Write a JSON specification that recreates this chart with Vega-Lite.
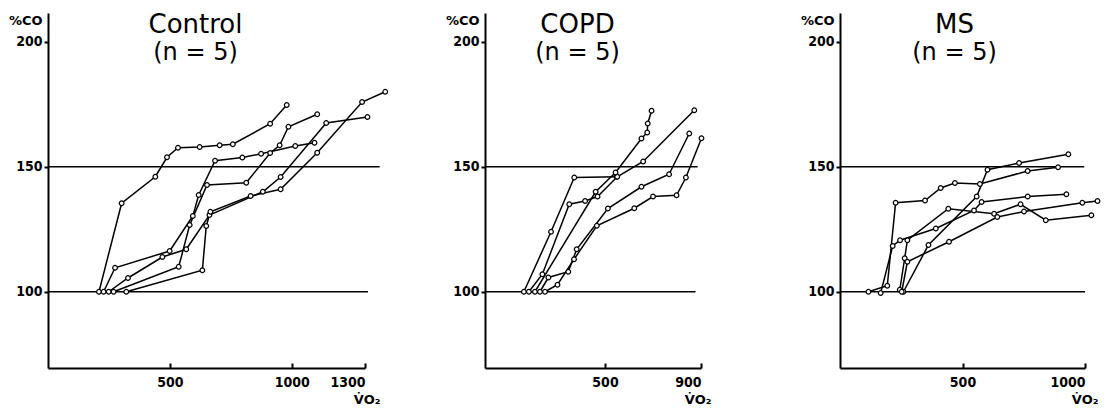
{
  "$schema": "https://vega.github.io/schema/vega-lite/v6.json",
  "padding": {"left": 8, "top": 12, "right": 0, "bottom": 0},
  "background": "white",
  "config": {
    "view": {"stroke": null},
    "axis": {"grid": false, "domainColor": "black", "domainWidth": 2, "tickColor": "black", "tickWidth": 2,
      "labelFont": "Liberation Sans Narrow, DejaVu Sans Condensed, Arial Narrow, sans-serif", "labelFontWeight": "bold", "labelFontSize": 14, "labelColor": "black",
      "titleFont": "DejaVu Sans", "titleFontWeight": "bold", "titleFontSize": 13, "titleColor": "black"},
    "title": {"font": "DejaVu Sans", "fontWeight": 500, "fontSize": 26, "color": "black", "subtitleFont": "DejaVu Sans", "subtitleFontSize": 24, "subtitleColor": "black", "anchor": "middle"}
  },
  "datasets": {
    "pts": [
      {"g":"Control","s":"A","x":209,"y":100},{"g":"Control","s":"A","x":302,"y":135.4},{"g":"Control","s":"A","x":440,"y":146},{"g":"Control","s":"A","x":488,"y":153.8},{"g":"Control","s":"A","x":533,"y":157.6},{"g":"Control","s":"A","x":622,"y":157.9},{"g":"Control","s":"A","x":704,"y":158.6},{"g":"Control","s":"A","x":758,"y":159},{"g":"Control","s":"A","x":911,"y":167.2},{"g":"Control","s":"A","x":979,"y":174.7},
      {"g":"Control","s":"B","x":228,"y":100},{"g":"Control","s":"B","x":275,"y":109.6},{"g":"Control","s":"B","x":499,"y":116.3},{"g":"Control","s":"B","x":594,"y":130.3},{"g":"Control","s":"B","x":618,"y":138.7},{"g":"Control","s":"B","x":685,"y":152.4},{"g":"Control","s":"B","x":797,"y":153.7},{"g":"Control","s":"B","x":874,"y":155.2},{"g":"Control","s":"B","x":1014,"y":158.3},{"g":"Control","s":"B","x":1093,"y":159.6},
      {"g":"Control","s":"C","x":269,"y":100},{"g":"Control","s":"C","x":536,"y":110},{"g":"Control","s":"C","x":581,"y":126.7},{"g":"Control","s":"C","x":652,"y":142.7},{"g":"Control","s":"C","x":813,"y":143.6},{"g":"Control","s":"C","x":911,"y":155.5},{"g":"Control","s":"C","x":950,"y":158.6},{"g":"Control","s":"C","x":986,"y":166},{"g":"Control","s":"C","x":1104,"y":171},
      {"g":"Control","s":"D","x":249,"y":100},{"g":"Control","s":"D","x":328,"y":105.5},{"g":"Control","s":"D","x":469,"y":113.9},{"g":"Control","s":"D","x":567,"y":117},{"g":"Control","s":"D","x":662,"y":130.7},{"g":"Control","s":"D","x":881,"y":140},{"g":"Control","s":"D","x":954,"y":145.9},{"g":"Control","s":"D","x":1141,"y":167.5},{"g":"Control","s":"D","x":1310,"y":169.9},
      {"g":"Control","s":"E","x":321,"y":100},{"g":"Control","s":"E","x":633,"y":108.6},{"g":"Control","s":"E","x":649,"y":126.3},{"g":"Control","s":"E","x":666,"y":132},{"g":"Control","s":"E","x":831,"y":138.3},{"g":"Control","s":"E","x":954,"y":141},{"g":"Control","s":"E","x":1104,"y":155.6},{"g":"Control","s":"E","x":1288,"y":175.9},{"g":"Control","s":"E","x":1383,"y":180},
      {"g":"COPD","s":"A","x":162,"y":100},{"g":"COPD","s":"A","x":275,"y":124},{"g":"COPD","s":"A","x":372,"y":145.7},{"g":"COPD","s":"A","x":548,"y":146},
      {"g":"COPD","s":"B","x":183,"y":100},{"g":"COPD","s":"B","x":239,"y":107},{"g":"COPD","s":"B","x":351,"y":135},{"g":"COPD","s":"B","x":417,"y":136.3},{"g":"COPD","s":"B","x":469,"y":138.1},{"g":"COPD","s":"B","x":551,"y":146},{"g":"COPD","s":"B","x":659,"y":152.1},{"g":"COPD","s":"B","x":872,"y":172.6},
      {"g":"COPD","s":"C","x":208,"y":100},{"g":"COPD","s":"C","x":461,"y":140},{"g":"COPD","s":"C","x":544,"y":147.7},{"g":"COPD","s":"C","x":652,"y":161.3},{"g":"COPD","s":"C","x":676,"y":163.7},{"g":"COPD","s":"C","x":678,"y":167.3},{"g":"COPD","s":"C","x":694,"y":172.4},
      {"g":"COPD","s":"D","x":229,"y":100},{"g":"COPD","s":"D","x":264,"y":105.7},{"g":"COPD","s":"D","x":347,"y":108},{"g":"COPD","s":"D","x":382,"y":117},{"g":"COPD","s":"D","x":512,"y":133.3},{"g":"COPD","s":"D","x":652,"y":142},{"g":"COPD","s":"D","x":767,"y":147},{"g":"COPD","s":"D","x":851,"y":163.3},
      {"g":"COPD","s":"E","x":250,"y":100},{"g":"COPD","s":"E","x":302,"y":102.8},{"g":"COPD","s":"E","x":371,"y":113},{"g":"COPD","s":"E","x":466,"y":126.4},{"g":"COPD","s":"E","x":622,"y":133.4},{"g":"COPD","s":"E","x":700,"y":138.1},{"g":"COPD","s":"E","x":798,"y":138.6},{"g":"COPD","s":"E","x":837,"y":145.7},{"g":"COPD","s":"E","x":902,"y":161.4},
      {"g":"MS","s":"A","x":116,"y":100},{"g":"MS","s":"A","x":193,"y":102.4},{"g":"MS","s":"A","x":227,"y":135.6},{"g":"MS","s":"A","x":347,"y":136.5},{"g":"MS","s":"A","x":411,"y":141.5},{"g":"MS","s":"A","x":469,"y":143.5},{"g":"MS","s":"A","x":571,"y":143.1},{"g":"MS","s":"A","x":766,"y":148.3},{"g":"MS","s":"A","x":890,"y":149.8},
      {"g":"MS","s":"B","x":166,"y":99.5},{"g":"MS","s":"B","x":215,"y":118.3},{"g":"MS","s":"B","x":245,"y":120.6},{"g":"MS","s":"B","x":391,"y":125.3},{"g":"MS","s":"B","x":547,"y":132.5},{"g":"MS","s":"B","x":578,"y":135.9},{"g":"MS","s":"B","x":766,"y":138.1},{"g":"MS","s":"B","x":924,"y":139},
      {"g":"MS","s":"C","x":259,"y":100},{"g":"MS","s":"C","x":361,"y":118.7},{"g":"MS","s":"C","x":558,"y":138.1},{"g":"MS","s":"C","x":602,"y":148.8},{"g":"MS","s":"C","x":731,"y":151.5},{"g":"MS","s":"C","x":932,"y":155},
      {"g":"MS","s":"D","x":244,"y":100.8},{"g":"MS","s":"D","x":264,"y":113.4},{"g":"MS","s":"D","x":275,"y":120.6},{"g":"MS","s":"D","x":442,"y":133.2},{"g":"MS","s":"D","x":629,"y":131.2},{"g":"MS","s":"D","x":737,"y":135},{"g":"MS","s":"D","x":840,"y":128.6},{"g":"MS","s":"D","x":1026,"y":130.6},
      {"g":"MS","s":"E","x":252,"y":100},{"g":"MS","s":"E","x":275,"y":112},{"g":"MS","s":"E","x":445,"y":120},{"g":"MS","s":"E","x":642,"y":129.9},{"g":"MS","s":"E","x":751,"y":132.1},{"g":"MS","s":"E","x":989,"y":135.6},{"g":"MS","s":"E","x":1051,"y":136.3}
    ],
    "refs": [
      {"g":"Control","y":100,"x0":0,"x1":1312},{"g":"Control","y":150,"x0":0,"x1":1360},
      {"g":"COPD","y":100,"x0":0,"x1":877},{"g":"COPD","y":150,"x0":0,"x1":886},
      {"g":"MS","y":100,"x0":0,"x1":1000},{"g":"MS","y":150,"x0":0,"x1":997}
    ]
  },
  "bounds": "flush",
  "spacing": 120,
  "hconcat": [
    {
      "width": 317, "height": 355,
      "title": {"text": "Control", "subtitle": "(n = 5)", "offset": -52, "dx": -11},
      "layer": [
        {"data": {"name": "refs"}, "transform": [{"filter": "datum.g === 'Control'"}],
         "mark": {"type": "rule", "color": "black", "strokeWidth": 1.5},
         "encoding": {
           "x": {"field": "x0", "type": "quantitative", "scale": {"domain": [0, 1300], "nice": false, "zero": false},
                 "axis": {"values": [500, 1000, 1300], "format": "d", "tickSize": -5, "labelPadding": 12, "title": "V̇O₂", "titleAlign": "right", "titleX": 332, "titleY": 31, "titleBaseline": "middle"}},
           "x2": {"field": "x1"},
           "y": {"field": "y", "type": "quantitative", "scale": {"domain": [69.5, 211.5], "nice": false, "zero": false},
                 "axis": {"values": [100, 150, 200], "tickSize": 4, "labelPadding": 2, "title": "%CO", "titleAngle": 0, "titleAlign": "right", "titleBaseline": "middle", "titleX": -6, "titleY": 7}}
         }},
        {"data": {"name": "pts"}, "transform": [{"filter": "datum.g === 'Control'"}],
         "mark": {"type": "line", "color": "black", "strokeWidth": 1.5},
         "encoding": {"x": {"field": "x", "type": "quantitative"}, "y": {"field": "y", "type": "quantitative"}, "detail": {"field": "s"}}},
        {"data": {"name": "pts"}, "transform": [{"filter": "datum.g === 'Control'"}],
         "mark": {"type": "point", "shape": "circle", "filled": true, "fill": "white", "stroke": "black", "strokeWidth": 1.2, "size": 22, "opacity": 1},
         "encoding": {"x": {"field": "x", "type": "quantitative"}, "y": {"field": "y", "type": "quantitative"}}}
      ]
    },
    {
      "width": 235, "height": 355,
      "title": {"text": "COPD", "subtitle": "(n = 5)", "offset": -52, "dx": -25},
      "layer": [
        {"data": {"name": "refs"}, "transform": [{"filter": "datum.g === 'COPD'"}],
         "mark": {"type": "rule", "color": "black", "strokeWidth": 1.5},
         "encoding": {
           "x": {"field": "x0", "type": "quantitative", "scale": {"domain": [0, 900], "range": [0, 216], "nice": false, "zero": false},
                 "axis": {"values": [500, 900], "format": "d", "tickSize": -5, "labelPadding": 12, "title": "V̇O₂", "titleAlign": "right", "titleX": 226, "titleY": 31, "titleBaseline": "middle"}},
           "x2": {"field": "x1"},
           "y": {"field": "y", "type": "quantitative", "scale": {"domain": [69.5, 211.5], "nice": false, "zero": false},
                 "axis": {"values": [100, 150, 200], "tickSize": 4, "labelPadding": 2, "title": "%CO", "titleAngle": 0, "titleAlign": "right", "titleBaseline": "middle", "titleX": -6, "titleY": 7}}
         }},
        {"data": {"name": "pts"}, "transform": [{"filter": "datum.g === 'COPD'"}],
         "mark": {"type": "line", "color": "black", "strokeWidth": 1.5},
         "encoding": {"x": {"field": "x", "type": "quantitative"}, "y": {"field": "y", "type": "quantitative"}, "detail": {"field": "s"}}},
        {"data": {"name": "pts"}, "transform": [{"filter": "datum.g === 'COPD'"}],
         "mark": {"type": "point", "shape": "circle", "filled": true, "fill": "white", "stroke": "black", "strokeWidth": 1.2, "size": 22, "opacity": 1},
         "encoding": {"x": {"field": "x", "type": "quantitative"}, "y": {"field": "y", "type": "quantitative"}}}
      ]
    },
    {
      "width": 245, "height": 355,
      "title": {"text": "MS", "subtitle": "(n = 5)", "offset": -52, "dx": -8},
      "layer": [
        {"data": {"name": "refs"}, "transform": [{"filter": "datum.g === 'MS'"}],
         "mark": {"type": "rule", "color": "black", "strokeWidth": 1.5},
         "encoding": {
           "x": {"field": "x0", "type": "quantitative", "scale": {"domain": [0, 1000], "nice": false, "zero": false},
                 "axis": {"values": [500, 1000], "format": "d", "tickSize": -5, "labelPadding": 12, "title": "V̇O₂", "titleAlign": "right", "titleX": 258, "titleY": 31, "titleBaseline": "middle"}},
           "x2": {"field": "x1"},
           "y": {"field": "y", "type": "quantitative", "scale": {"domain": [69.5, 211.5], "nice": false, "zero": false},
                 "axis": {"values": [100, 150, 200], "tickSize": 4, "labelPadding": 2, "title": "%CO", "titleAngle": 0, "titleAlign": "right", "titleBaseline": "middle", "titleX": -6, "titleY": 7}}
         }},
        {"data": {"name": "pts"}, "transform": [{"filter": "datum.g === 'MS'"}],
         "mark": {"type": "line", "color": "black", "strokeWidth": 1.5},
         "encoding": {"x": {"field": "x", "type": "quantitative"}, "y": {"field": "y", "type": "quantitative"}, "detail": {"field": "s"}}},
        {"data": {"name": "pts"}, "transform": [{"filter": "datum.g === 'MS'"}],
         "mark": {"type": "point", "shape": "circle", "filled": true, "fill": "white", "stroke": "black", "strokeWidth": 1.2, "size": 22, "opacity": 1},
         "encoding": {"x": {"field": "x", "type": "quantitative"}, "y": {"field": "y", "type": "quantitative"}}}
      ]
    }
  ]
}
